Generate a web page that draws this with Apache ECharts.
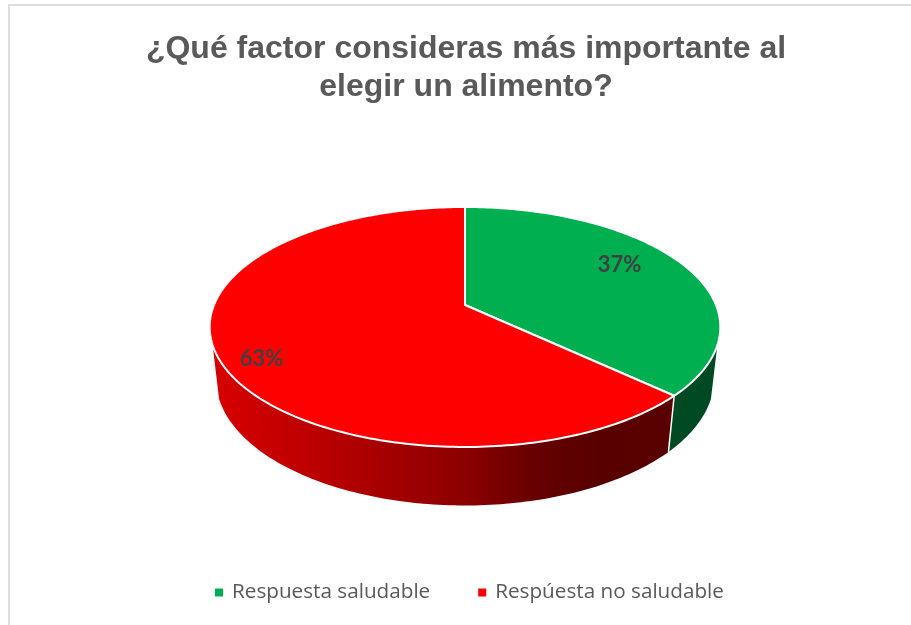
<!DOCTYPE html>
<html>
<head>
<meta charset="utf-8">
<style>
html, body { margin: 0; padding: 0; background: #fff; }
#chart { width: 911px; height: 625px; }
</style>
<script src="https://cdn.jsdelivr.net/npm/echarts@6/dist/echarts.min.js"></script>
</head>
<body>
<div id="chart"></div>
<script>
var categories = ['Respuesta saludable', 'Respúesta no saludable'];
var shares = [37, 63];
var titleLines = ['¿Qué factor consideras más importante al', 'elegir un alimento?'];

var topColors = ['#00b050', '#ff0000'];

// perspective of the tilted disc, measured on the reference
var cx = 465, cy = 305;
var radiusX = 251, radiusY = 116, tilt = -0.183;
var depthY = 52.7, depthW = 0.0245;
var sideFrom = 109, sideTo = 251;   // part of the wall that faces the viewer, degrees

// label placement for each slice: fraction of radius, then a small y nudge
var labelRadius = [0.705, 0.83];
var labelNudge = [-9, 13];

var total = shares[0] + shares[1];

function sliceStart(idx) {
    var sum = 0;
    for (var i = 0; i < idx; i++) sum += shares[i];
    return sum / total * 360;
}

// deg clockwise from 12 o'clock, r is a fraction of the radius, z is 0 top / 1 bottom
function project(deg, r, z) {
    var a = deg * Math.PI / 180;
    var X = Math.sin(a) * r, Y = -Math.cos(a) * r;
    var w = 1 + tilt * Y + depthW * z;
    return [cx + radiusX * X / w, cy + (radiusY * Y + depthY * z) / w];
}

function arcPoints(from, to, z) {
    var pts = [], steps = Math.max(2, Math.ceil(Math.abs(to - from)));
    for (var i = 0; i <= steps; i++) {
        pts.push(project(from + (to - from) * i / steps, 1, z));
    }
    return pts;
}

function sideFill(idx) {
    if (idx === 0) return '#004a23';
    return new echarts.graphic.LinearGradient(212, 0, 720, 0, [
        { offset: 0, color: '#d80000' },
        { offset: 0.25, color: '#b40000' },
        { offset: 0.37, color: '#a00000' },
        { offset: 0.5, color: '#8c0000' },
        { offset: 0.64, color: '#660000' },
        { offset: 0.76, color: '#580000' },
        { offset: 1, color: '#5a0000' }
    ], true);
}

function makeRender(idx) {
    return function () {
        var start = sliceStart(idx);
        var end = start + shares[idx] / total * 360;
        var children = [];

        // wall
        var wallFrom = Math.max(start, sideFrom), wallTo = Math.min(end, sideTo);
        if (wallTo > wallFrom) {
            var wall = arcPoints(wallFrom, wallTo, 0).concat(arcPoints(wallTo, wallFrom, 1));
            children.push({
                type: 'polygon', z2: 1, silent: true,
                shape: { points: wall },
                style: { fill: sideFill(idx) }
            });
        }
        // seam between the two walls
        if (end > sideFrom && end < sideTo) {
            var a = project(end, 1, 0), b = project(end, 1, 1);
            children.push({
                type: 'line', z2: 2, silent: true,
                shape: { x1: a[0], y1: a[1], x2: b[0], y2: b[1] },
                style: { stroke: '#fff', lineWidth: 1.5 }
            });
        }
        // top face
        var face = [project(0, 0, 0)].concat(arcPoints(start, end, 0));
        children.push({
            type: 'polygon', z2: 3, silent: true,
            shape: { points: face },
            style: { fill: topColors[idx], stroke: '#fff', lineWidth: 2, lineJoin: 'round' }
        });
        // percent label
        var mid = project((start + end) / 2, labelRadius[idx], 0);
        children.push({
            type: 'text', z2: 4, silent: true,
            x: mid[0], y: mid[1] + labelNudge[idx],
            style: {
                text: shares[idx] + '%',
                fill: '#404040',
                font: 'bold 22px Lato',
                align: 'center',
                verticalAlign: 'middle'
            }
        });
        return { type: 'group', children: children };
    };
}

var series = [];
for (var i = 0; i < categories.length; i++) {
    series.push({
        name: categories[i],
        type: 'custom',
        coordinateSystem: 'none',
        renderItem: makeRender(i),
        itemStyle: { color: topColors[i] },
        data: [[shares[i]]]
    });
}

var myChart = echarts.init(document.getElementById('chart'));
myChart.setOption({
    animation: false,
    backgroundColor: '#fff',
    title: {
        text: titleLines.join('\n'),
        left: 461,
        top: 25,
        textAlign: 'center',
        textStyle: {
            fontFamily: 'Liberation Sans',
            fontWeight: 'bold',
            fontSize: 32,
            lineHeight: 38,
            color: '#595959'
        }
    },
    legend: {
        data: categories,
        left: 210,
        top: 577,
        icon: 'rect',
        itemWidth: 8,
        itemHeight: 8,
        itemGap: 48,
        textStyle: {
            fontFamily: 'Open Sans',
            fontSize: 20.7,
            color: '#595959',
            padding: [0, 0, 0, 4]
        }
    },
    graphic: [{
        type: 'polyline',
        silent: true,
        shape: { points: [[9, 625], [9, 5], [911, 5]] },
        style: { fill: null, stroke: '#dedede', lineWidth: 2 }
    }],
    series: series
});
</script>
</body>
</html>
